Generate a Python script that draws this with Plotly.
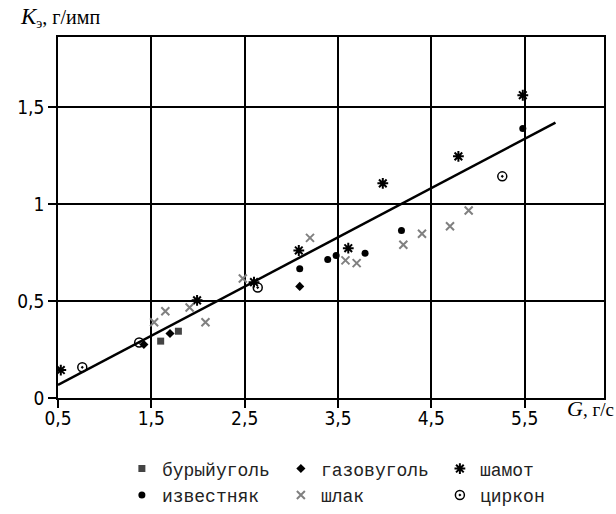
import plotly.graph_objects as go

# ---- data ----
x_ticks = [0.5, 1.5, 2.5, 3.5, 4.5, 5.5]
x_ticklabels = ["0,5", "1,5", "2,5", "3,5", "4,5", "5,5"]
y_ticks = [0, 0.5, 1, 1.5]
y_ticklabels = ["0", "0,5", "1", "1,5"]

brown_x = [1.60, 1.79]
brown_y = [0.293, 0.344]
gas_x = [1.42, 1.70, 3.09]
gas_y = [0.276, 0.332, 0.575]
shamot_x = [0.53, 1.99, 2.60, 3.08, 3.61, 3.98, 4.79, 5.48]
shamot_y = [0.144, 0.503, 0.597, 0.760, 0.772, 1.106, 1.245, 1.560]
lime_x = [3.09, 3.39, 3.48, 3.79, 4.18, 5.48]
lime_y = [0.666, 0.714, 0.734, 0.746, 0.863, 1.388]
slag_x = [1.53, 1.65, 1.91, 2.08, 2.48, 3.20, 3.58, 3.70, 4.20, 4.40, 4.70, 4.90]
slag_y = [0.390, 0.447, 0.466, 0.390, 0.616, 0.825, 0.709, 0.695, 0.790, 0.846, 0.885, 0.966]
zircon_x = [0.76, 1.37, 2.64, 5.26]
zircon_y = [0.158, 0.286, 0.569, 1.142]
fit_x = [0.5, 5.83]
fit_y = [0.067, 1.419]

names = ["бурыйуголь", "газовуголь", "шамот", "известняк", "шлак", "циркон"]

fig = go.Figure()
fig.add_trace(go.Scatter(x=fit_x, y=fit_y, mode="lines",
                         line=dict(color="black", width=2.5), showlegend=False,
                         hoverinfo="skip"))
fig.add_trace(go.Scatter(x=brown_x, y=brown_y, mode="markers", name=names[0],
                         marker=dict(symbol="square", size=7, color="#444444")))
fig.add_trace(go.Scatter(x=gas_x, y=gas_y, mode="markers", name=names[1],
                         marker=dict(symbol="diamond", size=7, color="black")))
fig.add_trace(go.Scatter(x=shamot_x, y=shamot_y, mode="markers", name=names[2],
                         marker=dict(symbol="asterisk-open", size=9, color="black",
                                     line=dict(color="black", width=2))))
fig.add_trace(go.Scatter(x=lime_x, y=lime_y, mode="markers", name=names[3],
                         marker=dict(symbol="circle", size=7, color="black")))
fig.add_trace(go.Scatter(x=slag_x, y=slag_y, mode="markers", name=names[4],
                         marker=dict(symbol="x-thin-open", size=8, color="#808080",
                                     line=dict(color="#808080", width=2))))
fig.add_trace(go.Scatter(x=zircon_x, y=zircon_y, mode="markers", name=names[5],
                         marker=dict(symbol="circle-open-dot", size=9, color="black",
                                     line=dict(color="black", width=1.5))))

tick_font = dict(family="Liberation Sans Narrow, Arial Narrow, DejaVu Sans Condensed, Liberation Sans",
                 size=19, color="black")
axis_common = dict(showgrid=True, gridcolor="black", gridwidth=1.5,
                   showline=True, linecolor="black", linewidth=1.5, mirror=True,
                   ticks="outside", ticklen=8, tickwidth=1.5, tickcolor="black",
                   zeroline=False, tickfont=tick_font)

fig.update_xaxes(range=[0.5, 6.35], tickvals=x_ticks, ticktext=x_ticklabels,
                 ticklabelstandoff=-6, **axis_common)
fig.update_yaxes(range=[0, 1.86], tickvals=y_ticks, ticktext=y_ticklabels, **axis_common)

fig.add_annotation(xref="paper", yref="paper", x=-0.073, y=1.055,
                   xanchor="left", yanchor="middle", showarrow=False,
                   text="<i><span style='font-size:23px'>K</span></i><sub>э</sub>, г/имп",
                   font=dict(family="Liberation Serif", size=20, color="black"))
fig.add_annotation(xref="paper", yref="paper", x=0.929, y=-0.03,
                   xanchor="left", yanchor="middle", showarrow=False,
                   text="<i><span style='font-size:22px'>G</span></i>, г/с",
                   font=dict(family="Liberation Serif", size=19, color="black"))

fig.update_layout(
    width=616, height=514,
    margin=dict(l=58, r=12, t=37, b=116, autoexpand=False),
    plot_bgcolor="white", paper_bgcolor="white",
    legend=dict(orientation="h", x=0.117, y=-0.145, xanchor="left", yanchor="top",
                entrywidth=114, entrywidthmode="pixels", itemwidth=30,
                font=dict(family="Liberation Mono, DejaVu Sans Mono, monospace",
                          size=18, color="#222222"),
                bgcolor="rgba(0,0,0,0)"),
)

fig.write_html("out.html", config={"displayModeBar": False},
               post_script="document.body.style.margin='0px';document.body.style.padding='0px';")
